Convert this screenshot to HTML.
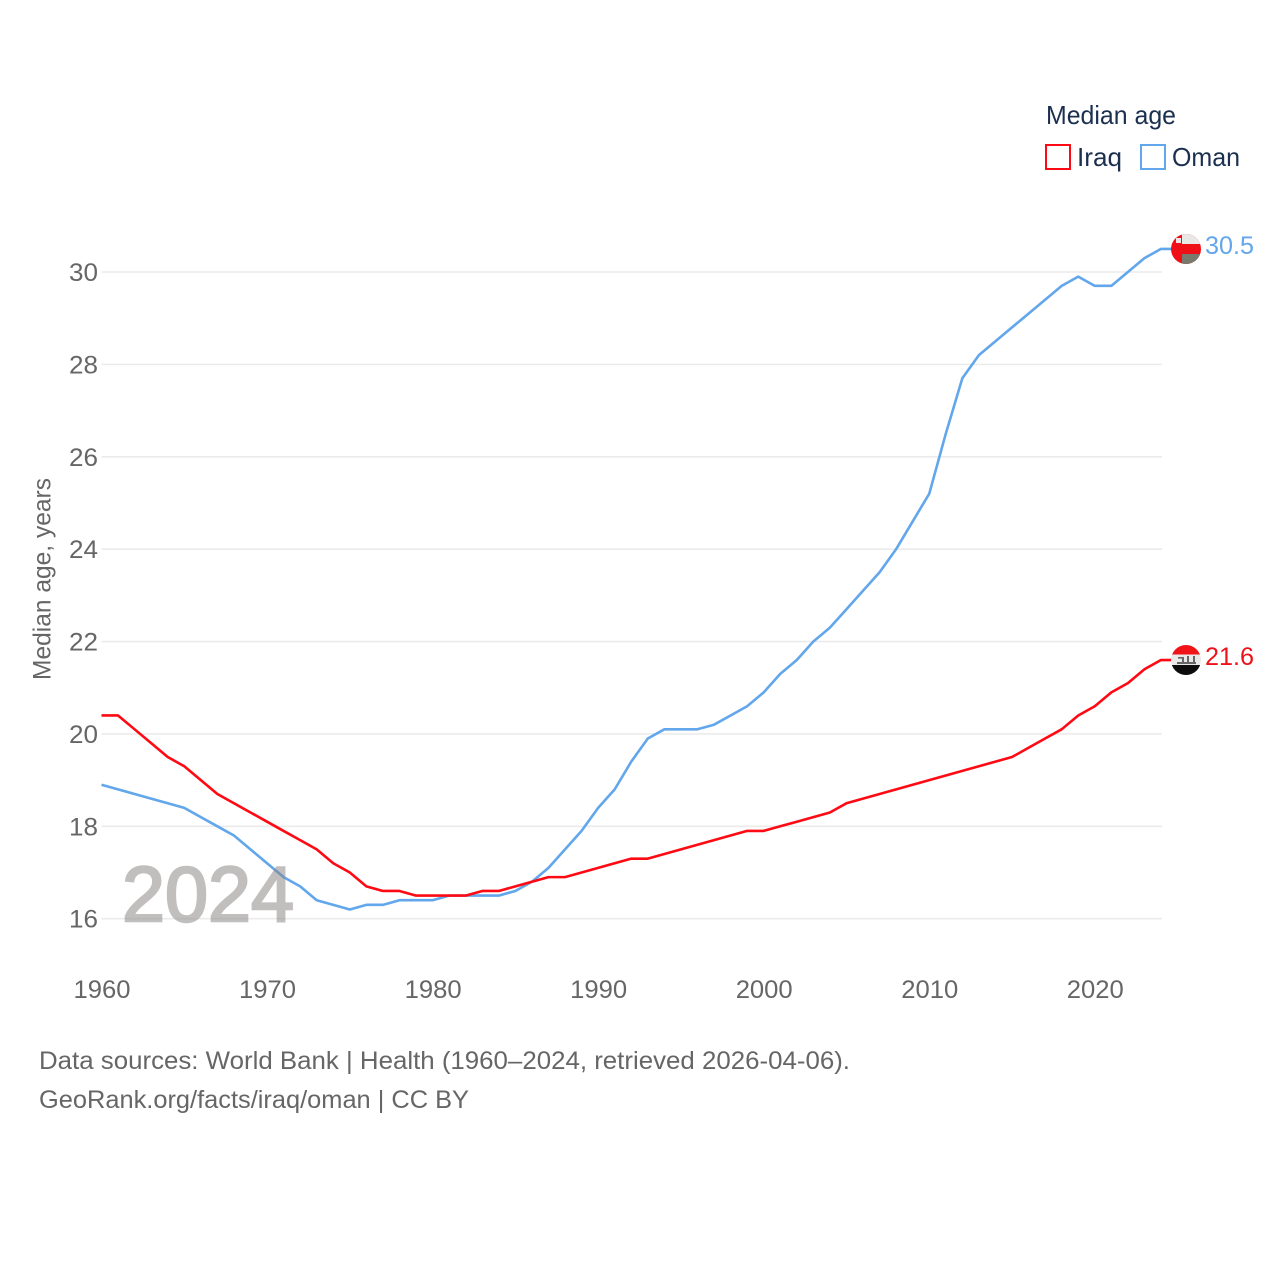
<!DOCTYPE html>
<html lang="en">
<head>
<meta charset="utf-8">
<title>Median age: Iraq and Oman</title>
<style>
html,body{margin:0;padding:0;background:#fff;width:1280px;height:1280px;overflow:hidden}
svg{display:block}
text{font-family:"Liberation Sans",sans-serif}
</style>
</head>
<body>
<svg id="chart" xmlns="http://www.w3.org/2000/svg" width="1280" height="1280" viewBox="0 0 1280 1280">
  <defs>
    <clipPath id="clip-oman"><circle cx="1186" cy="249" r="15"/></clipPath>
    <clipPath id="clip-iraq"><circle cx="1186" cy="660" r="15"/></clipPath>
  </defs>
  <g id="grid"></g>
  <g id="y-ticks"></g>
  <g id="x-ticks"></g>
  <text transform="translate(50.5,680) rotate(-90)" font-size="25" fill="#666" textLength="202" lengthAdjust="spacingAndGlyphs">Median age, years</text>
  <g id="series"></g>
  <g opacity="0.52">
    <text x="122" y="921" font-size="78" fill="#8a8484" stroke="#8a8484" stroke-width="2.4" textLength="172" lengthAdjust="spacingAndGlyphs">2024</text>
  </g>

  <g clip-path="url(#clip-oman)">
    <rect x="1171" y="234" width="30" height="30" fill="#f00f16"/>
    <rect x="1182" y="234" width="19" height="10" fill="#e8e8e8"/>
    <rect x="1182" y="254" width="19" height="10" fill="#777a6c"/>
    <rect x="1176" y="238" width="5" height="5" fill="#f2e4e4"/>
  </g>
  <g clip-path="url(#clip-iraq)">
    <rect x="1171" y="645" width="30" height="9.5" fill="#f01419"/>
    <rect x="1171" y="654.5" width="30" height="10.5" fill="#e9e9e9"/>
    <rect x="1171" y="665" width="30" height="10" fill="#0c0c0c"/>
    <rect x="1177" y="662" width="19" height="2" fill="#666"/>
    <rect x="1178" y="657" width="6" height="1.6" fill="#666"/>
    <rect x="1182" y="658" width="2" height="4" fill="#666"/>
    <rect x="1187" y="656" width="2" height="6" fill="#666"/>
    <rect x="1193" y="656" width="2" height="6" fill="#666"/>
  </g>
  <text x="1205" y="254" font-size="25" fill="#62a6ec" textLength="49" lengthAdjust="spacingAndGlyphs">30.5</text>
  <text x="1205" y="665" font-size="25" fill="#ee1119" textLength="49" lengthAdjust="spacingAndGlyphs">21.6</text>

  <g>
    <text x="1046" y="124" font-size="26" fill="#1b2f4f" textLength="130" lengthAdjust="spacingAndGlyphs">Median age</text>
    <rect x="1046" y="145" width="24" height="24" fill="none" stroke="#ff0a14" stroke-width="2"/>
    <text x="1077" y="166" font-size="26" fill="#1b2f4f" textLength="45" lengthAdjust="spacingAndGlyphs">Iraq</text>
    <rect x="1141" y="145" width="24" height="24" fill="none" stroke="#62a6ec" stroke-width="2"/>
    <text x="1172" y="166" font-size="26" fill="#1b2f4f" textLength="68" lengthAdjust="spacingAndGlyphs">Oman</text>
  </g>

  <text x="39" y="1069" font-size="25" fill="#666" textLength="811" lengthAdjust="spacingAndGlyphs">Data sources: World Bank | Health (1960–2024, retrieved 2026-04-06).</text>
  <text x="39" y="1108" font-size="25" fill="#666" textLength="430" lengthAdjust="spacingAndGlyphs">GeoRank.org/facts/iraq/oman | CC BY</text>
</svg>
<script>
const firstYear = 1960;
const yTickValues = [16, 18, 20, 22, 24, 26, 28, 30];
const xTickValues = [1960, 1970, 1980, 1990, 2000, 2010, 2020];
const iraqValues = [20.4,20.4,20.1,19.8,19.5,19.3,19.0,18.7,18.5,18.3,18.1,17.9,17.7,17.5,17.2,17.0,16.7,16.6,16.6,16.5,16.5,16.5,16.5,16.6,16.6,16.7,16.8,16.9,16.9,17.0,17.1,17.2,17.3,17.3,17.4,17.5,17.6,17.7,17.8,17.9,17.9,18.0,18.1,18.2,18.3,18.5,18.6,18.7,18.8,18.9,19.0,19.1,19.2,19.3,19.4,19.5,19.7,19.9,20.1,20.4,20.6,20.9,21.1,21.4,21.6];
const omanValues = [18.9,18.8,18.7,18.6,18.5,18.4,18.2,18.0,17.8,17.5,17.2,16.9,16.7,16.4,16.3,16.2,16.3,16.3,16.4,16.4,16.4,16.5,16.5,16.5,16.5,16.6,16.8,17.1,17.5,17.9,18.4,18.8,19.4,19.9,20.1,20.1,20.1,20.2,20.4,20.6,20.9,21.3,21.6,22.0,22.3,22.7,23.1,23.5,24.0,24.6,25.2,26.5,27.7,28.2,28.5,28.8,29.1,29.4,29.7,29.9,29.7,29.7,30.0,30.3,30.5];

const NS = 'http://www.w3.org/2000/svg';
const xScale = function (year) { return 101.5 + (year - 1960) * (1161 - 101.5) / 64; };
const yScale = function (v) { return 918.7 - (v - 16) * (918.7 - 272) / 14; };

const gridGroup = document.getElementById('grid');
const yTickGroup = document.getElementById('y-ticks');
const xTickGroup = document.getElementById('x-ticks');
const seriesGroup = document.getElementById('series');

yTickValues.forEach(function (v) {
  const line = document.createElementNS(NS, 'line');
  
  
  line.setAttribute('x1', 101.5);
  line.setAttribute('x2', 1162);
  line.setAttribute('y1', yScale(v));
  line.setAttribute('y2', yScale(v));
  line.setAttribute('stroke', '#ebebeb');
  line.setAttribute('stroke-width', '1.6');
  gridGroup.appendChild(line);

  const label = document.createElementNS(NS, 'text');
  
  
  label.setAttribute('x', 69);
  label.setAttribute('y', yScale(v) + 9);
  label.setAttribute('font-size', '25');
  label.setAttribute('fill', '#666');
  label.setAttribute('textLength', '29');
  label.setAttribute('lengthAdjust', 'spacingAndGlyphs');
  label.textContent = String(v);
  yTickGroup.appendChild(label);
});

xTickValues.forEach(function (year) {
  const label = document.createElementNS(NS, 'text');
  
  
  label.setAttribute('x', xScale(year) - 28);
  label.setAttribute('y', 998);
  label.setAttribute('font-size', '25');
  label.setAttribute('fill', '#666');
  label.setAttribute('textLength', '57');
  label.setAttribute('lengthAdjust', 'spacingAndGlyphs');
  label.textContent = String(year);
  xTickGroup.appendChild(label);
});

function drawSeries(values, color, name) {
  const coords = values.map(function (v, i) {
    return xScale(firstYear + i).toFixed(2) + ',' + yScale(v).toFixed(2);
  });
  const lastValue = values[values.length - 1];
  coords.push('1172,' + yScale(lastValue).toFixed(2));
  const line = document.createElementNS(NS, 'polyline');
  
  
  line.setAttribute('points', coords.join(' '));
  line.setAttribute('fill', 'none');
  line.setAttribute('stroke', color);
  line.setAttribute('stroke-width', '2.6');
  line.setAttribute('stroke-linejoin', 'round');
  seriesGroup.appendChild(line);
}

drawSeries(omanValues, '#62a6ec', 'oman-line');
drawSeries(iraqValues, '#ff0a14', 'iraq-line');
</script>
</body>
</html>
